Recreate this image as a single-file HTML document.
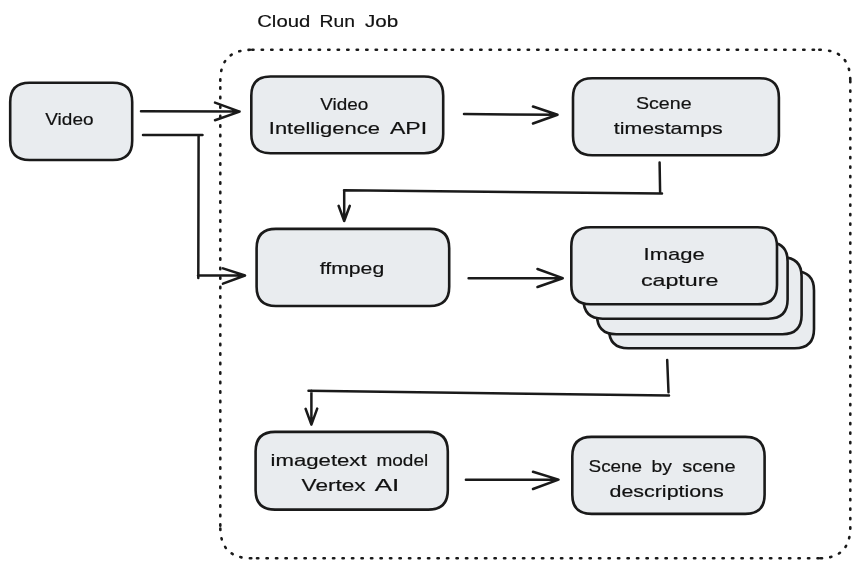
<!DOCTYPE html>
<html><head><meta charset="utf-8">
<style>
html,body{margin:0;padding:0;background:#fff;width:860px;height:568px;overflow:hidden}
svg{display:block;will-change:transform}
text{font-family:"Liberation Sans",sans-serif}
</style></head><body>
<svg width="860" height="568" viewBox="0 0 860 568">
<g fill="none" stroke="#1a1a1a" stroke-width="2.6" stroke-dasharray="1.3 8.2" stroke-linecap="round">
<path d="M252.2 49.8 L819.3 49.8"/>
<path d="M819.3 49.8 Q850.3 49.8 850.3 80.8"/>
<path d="M850.3 81.0 L850.3 527.3"/>
<path d="M850.3 527.3 Q850.3 558.3 819.3 558.3"/>
<path d="M818.8 558.3 L251.3 558.3"/>
<path d="M251.3 558.3 Q220.3 558.3 220.3 527.3"/>
<path d="M220.3 525.7 L220.3 80.8"/>
<path d="M220.3 80.8 Q220.3 49.8 251.3 49.8"/>
</g>
<g fill="#e9ecef" stroke="#1a1a1a" stroke-width="2.6">
<path d="M29.50 82.80 L112.90 82.80 Q132.20 82.80 132.20 102.10 L132.20 140.70 Q132.20 160.00 112.90 160.00 L29.50 160.00 Q10.20 160.00 10.20 140.70 L10.20 102.10 Q10.20 82.80 29.50 82.80 Z"/>
<path d="M270.48 76.50 L424.02 76.50 Q443.20 76.50 443.20 95.67 L443.20 134.02 Q443.20 153.20 424.02 153.20 L270.48 153.20 Q251.30 153.20 251.30 134.02 L251.30 95.67 Q251.30 76.50 270.48 76.50 Z"/>
<path d="M592.27 78.20 L759.62 78.20 Q778.90 78.20 778.90 97.48 L778.90 136.03 Q778.90 155.30 759.62 155.30 L592.27 155.30 Q573.00 155.30 573.00 136.03 L573.00 97.48 Q573.00 78.20 592.27 78.20 Z"/>
<path d="M275.88 228.90 L429.93 228.90 Q449.20 228.90 449.20 248.18 L449.20 286.73 Q449.20 306.00 429.93 306.00 L275.88 306.00 Q256.60 306.00 256.60 286.73 L256.60 248.18 Q256.60 228.90 275.88 228.90 Z"/>
<path d="M628.25 271.30 L794.75 271.30 Q814.00 271.30 814.00 290.55 L814.00 329.05 Q814.00 348.30 794.75 348.30 L628.25 348.30 Q609.00 348.30 609.00 329.05 L609.00 290.55 Q609.00 271.30 628.25 271.30 Z"/>
<path d="M616.20 257.40 L782.40 257.40 Q801.60 257.40 801.60 276.60 L801.60 315.00 Q801.60 334.20 782.40 334.20 L616.20 334.20 Q597.00 334.20 597.00 315.00 L597.00 276.60 Q597.00 257.40 616.20 257.40 Z"/>
<path d="M602.62 242.20 L768.48 242.20 Q787.60 242.20 787.60 261.32 L787.60 299.57 Q787.60 318.70 768.48 318.70 L602.62 318.70 Q583.50 318.70 583.50 299.57 L583.50 261.32 Q583.50 242.20 602.62 242.20 Z"/>
<path d="M590.55 227.20 L757.75 227.20 Q777.00 227.20 777.00 246.45 L777.00 284.95 Q777.00 304.20 757.75 304.20 L590.55 304.20 Q571.30 304.20 571.30 284.95 L571.30 246.45 Q571.30 227.20 590.55 227.20 Z"/>
<path d="M275.02 431.90 L428.38 431.90 Q447.80 431.90 447.80 451.32 L447.80 490.18 Q447.80 509.60 428.38 509.60 L275.02 509.60 Q255.60 509.60 255.60 490.18 L255.60 451.32 Q255.60 431.90 275.02 431.90 Z"/>
<path d="M591.55 436.90 L745.35 436.90 Q764.60 436.90 764.60 456.15 L764.60 494.65 Q764.60 513.90 745.35 513.90 L591.55 513.90 Q572.30 513.90 572.30 494.65 L572.30 456.15 Q572.30 436.90 591.55 436.90 Z"/>
</g>
<g fill="none" stroke="#1a1a1a" stroke-width="2.5" stroke-linecap="round" stroke-linejoin="round">
<path d="M141 111.2 L239.6 111.6 M215 102.6 L239.6 111.6 L215 120.2"/>
<path d="M143 134.9 L202.5 135 M198.6 135 L198.3 278 M198 275.5 L244.5 275.5 M223 268.4 L245 275.5 L223 283.7"/>
<path d="M464 114 L557.5 114.8 M533 106.5 L557.5 114.8 L533 123.5"/>
<path d="M659.6 162.5 L660.1 192 M662 193.5 L344 190.3 M344.2 190.5 L344.2 221 M338.6 205.8 L344.2 221 L349.8 205.8"/>
<path d="M468.6 278.2 L562.7 278.2 M537.5 269 L562.7 278.2 L537.5 287"/>
<path d="M667.2 360 L668.5 392.3 M669 395.5 L308.5 390.8 M311.4 390.8 L311.4 424.6 M305.6 408.8 L311.4 424.6 L317.2 408.6"/>
<path d="M465.9 479.7 L558 479.7 M533 471.8 L558.5 479.6 L533 489"/>
</g>
<g font-family="Liberation Sans, sans-serif" font-size="18" fill="#111" stroke="#111" stroke-width="0.2">
<text transform="translate(0 27.00) scale(1 0.930)" x="257.2" y="0" textLength="53.1" lengthAdjust="spacingAndGlyphs">Cloud</text>
<text transform="translate(0 27.00) scale(1 0.930)" x="319.6" y="0" textLength="35.4" lengthAdjust="spacingAndGlyphs">Run</text>
<text transform="translate(0 27.00) scale(1 0.930)" x="365.0" y="0" textLength="33.2" lengthAdjust="spacingAndGlyphs">Job</text>
<text transform="translate(0 124.70) scale(1 0.930)" x="45.3" y="0" textLength="48.2" lengthAdjust="spacingAndGlyphs">Video</text>
<text transform="translate(0 109.50) scale(1 0.930)" x="320.3" y="0" textLength="48.0" lengthAdjust="spacingAndGlyphs">Video</text>
<text transform="translate(0 134.00) scale(1 0.930)" x="268.8" y="0" textLength="111.1" lengthAdjust="spacingAndGlyphs">Intelligence</text>
<text transform="translate(0 134.00) scale(1 0.930)" x="389.9" y="0" textLength="37.2" lengthAdjust="spacingAndGlyphs">API</text>
<text transform="translate(0 109.40) scale(1 0.930)" x="636.0" y="0" textLength="55.6" lengthAdjust="spacingAndGlyphs">Scene</text>
<text transform="translate(0 133.90) scale(1 0.930)" x="613.8" y="0" textLength="108.9" lengthAdjust="spacingAndGlyphs">timestamps</text>
<text transform="translate(0 274.00) scale(1 0.930)" x="319.8" y="0" textLength="64.4" lengthAdjust="spacingAndGlyphs">ffmpeg</text>
<text transform="translate(0 259.70) scale(1 0.930)" x="643.6" y="0" textLength="61.1" lengthAdjust="spacingAndGlyphs">Image</text>
<text transform="translate(0 285.60) scale(1 0.930)" x="640.9" y="0" textLength="77.4" lengthAdjust="spacingAndGlyphs">capture</text>
<text transform="translate(0 465.80) scale(1 0.930)" x="270.6" y="0" textLength="96.0" lengthAdjust="spacingAndGlyphs">imagetext</text>
<text transform="translate(0 465.80) scale(1 0.930)" x="376.5" y="0" textLength="51.7" lengthAdjust="spacingAndGlyphs">model</text>
<text transform="translate(0 491.40) scale(1 0.930)" x="301.6" y="0" textLength="64.0" lengthAdjust="spacingAndGlyphs">Vertex</text>
<text transform="translate(0 491.40) scale(1 0.930)" x="374.7" y="0" textLength="24.6" lengthAdjust="spacingAndGlyphs">AI</text>
<text transform="translate(0 472.00) scale(1 0.930)" x="588.6" y="0" textLength="53.5" lengthAdjust="spacingAndGlyphs">Scene</text>
<text transform="translate(0 472.00) scale(1 0.930)" x="651.5" y="0" textLength="20.4" lengthAdjust="spacingAndGlyphs">by</text>
<text transform="translate(0 472.00) scale(1 0.930)" x="682.2" y="0" textLength="53.4" lengthAdjust="spacingAndGlyphs">scene</text>
<text transform="translate(0 496.50) scale(1 0.930)" x="609.5" y="0" textLength="114.3" lengthAdjust="spacingAndGlyphs">descriptions</text>
</g>
</svg>
</body></html>
